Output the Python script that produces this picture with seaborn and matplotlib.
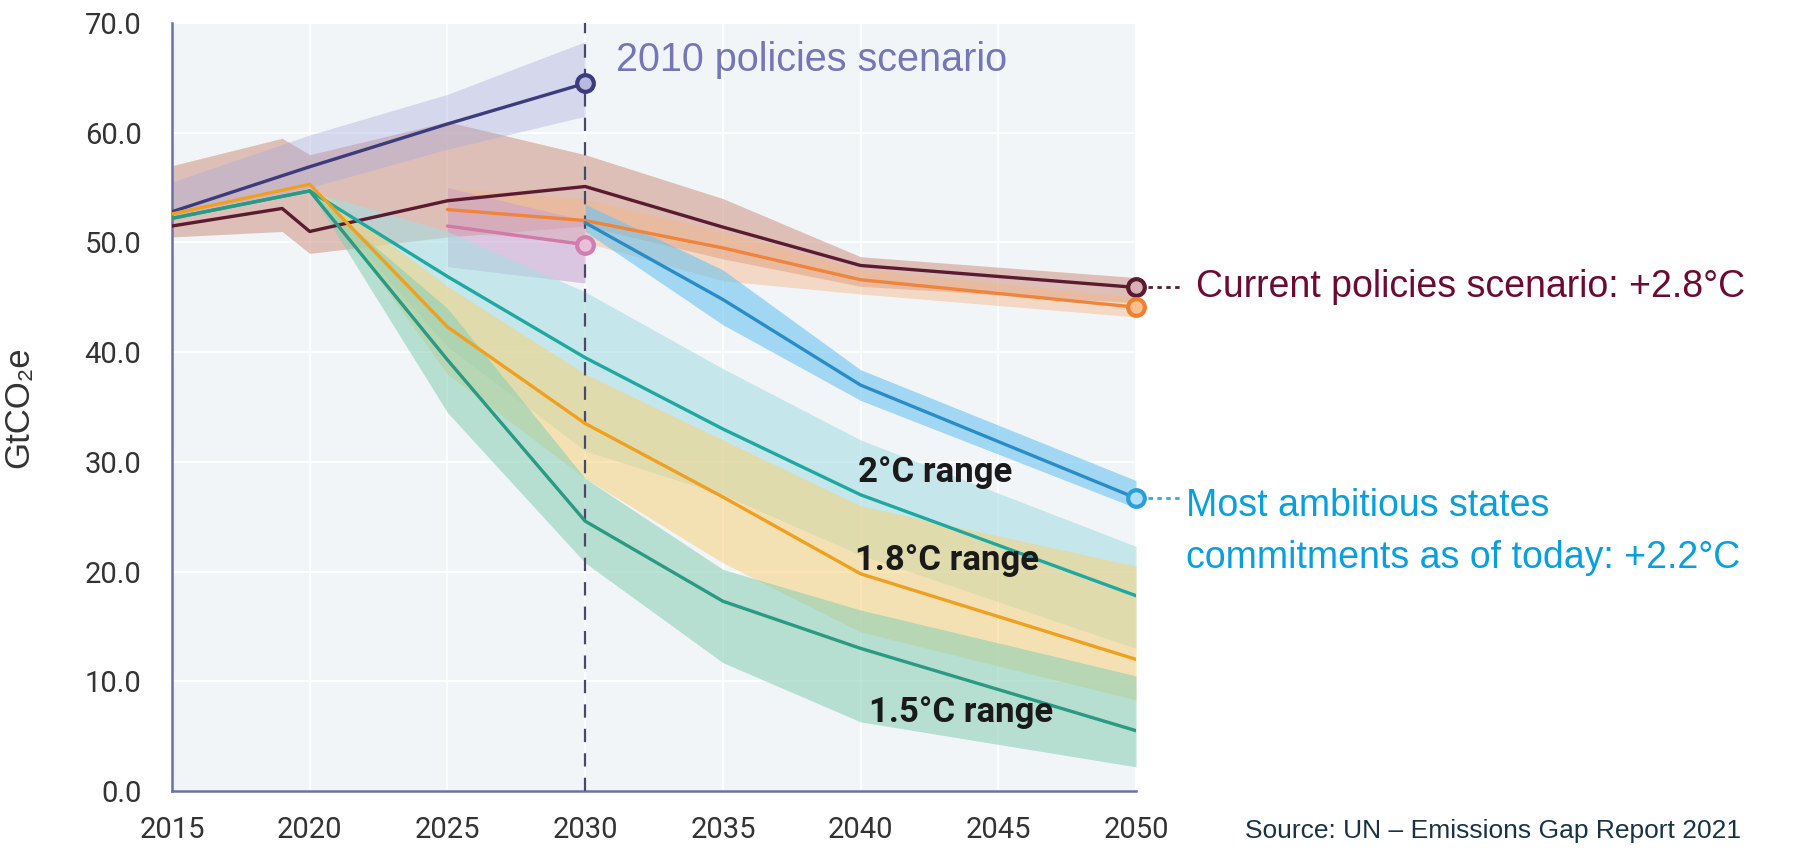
import matplotlib
matplotlib.use("Agg")
import matplotlib.pyplot as plt
import matplotlib.ticker as mticker
import numpy as np
import pandas as pd
import seaborn as sns

# ---------------------------------------------------------------------------
# Data (GtCO2e), read off the UN Emissions Gap Report 2021 chart
# ---------------------------------------------------------------------------
years_2010 = [2015, 2020, 2025, 2030]
policy_2010 = [52.8, 56.9, 60.8, 64.5]
policy_2010_lo = [52.0, 55.0, 58.5, 61.5]
policy_2010_hi = [55.5, 59.8, 63.5, 68.3]

years_current = [2015, 2019, 2020, 2025, 2030, 2035, 2040, 2050]
current = [51.5, 53.1, 51.0, 53.8, 55.1, 51.4, 47.9, 45.9]
current_lo = [50.5, 51.0, 49.0, 50.5, 51.5, 48.5, 46.0, 44.5]
current_hi = [57.0, 59.5, 58.0, 61.0, 58.0, 54.0, 48.7, 46.8]

years_ndc = [2025, 2030, 2035, 2040, 2050]
ndc = [53.0, 52.0, 49.5, 46.6, 44.1]
ndc_lo = [51.0, 50.0, 46.5, 45.3, 43.2]
ndc_hi = [55.0, 54.0, 51.0, 47.6, 45.0]

years_pledge = [2025, 2030]
pledge = [51.5, 49.8]
pledge_lo = [47.8, 46.3]
pledge_hi = [55.0, 52.0]

years_ambitious = [2030, 2035, 2040, 2050]
ambitious = [51.8, 44.8, 37.0, 26.7]
ambitious_lo = [51.0, 42.5, 35.6, 25.8]
ambitious_hi = [53.5, 47.5, 38.4, 28.3]

years_paths = [2015, 2020, 2025, 2030, 2035, 2040, 2050]
range_2c = [52.2, 54.7, 46.9, 39.5, 33.0, 27.0, 17.8]
range_2c_lo = [52.2, 54.7, 40.5, 31.0, 27.0, 21.5, 13.0]
range_2c_hi = [52.2, 54.7, 51.0, 45.5, 38.5, 32.0, 22.3]

range_18 = [52.6, 55.3, 42.3, 33.5, 26.8, 19.8, 12.0]
range_18_lo = [52.6, 55.3, 38.0, 28.5, 20.8, 14.5, 8.3]
range_18_hi = [52.6, 55.3, 46.0, 38.0, 32.0, 26.0, 20.5]

range_15 = [52.2, 54.7, 39.3, 24.6, 17.3, 13.0, 5.5]
range_15_lo = [52.2, 54.7, 34.5, 20.8, 11.7, 6.3, 2.2]
range_15_hi = [52.2, 54.7, 44.0, 28.5, 20.2, 16.5, 10.5]

x_ticks = [2015, 2020, 2025, 2030, 2035, 2040, 2045, 2050]
y_ticks = [0, 10, 20, 30, 40, 50, 60, 70]

# ---------------------------------------------------------------------------
# Style
# ---------------------------------------------------------------------------
sns.set_theme(style="white")
plt.rcParams["font.family"] = ["Roboto", "DejaVu Sans"]

AXIS_COLOR = "#6e6eaa"
ARIAL = ["Liberation Sans", "DejaVu Sans"]

fig = plt.figure(figsize=(17.99, 8.56), dpi=100)
ax = fig.add_axes([0.0956, 0.0759, 0.5359, 0.8972])
ax.set_facecolor("#f2f5f7")

# Ranges (bands), then the central lines
bands = [
    (years_current, current_lo, current_hi, "#c98a78", 0.50),
    (years_2010, policy_2010_lo, policy_2010_hi, "#a8a8dc", 0.38),
    (years_ndc, ndc_lo, ndc_hi, "#f6b888", 0.45),
    (years_pledge, pledge_lo, pledge_hi, "#c8a0d0", 0.55),
    (years_paths, range_2c_lo, range_2c_hi, "#a8dde2", 0.60),
    (years_paths, range_18_lo, range_18_hi, "#f6d27c", 0.55),
    (years_paths, range_15_lo, range_15_hi, "#86cdb4", 0.55),
    (years_ambitious, ambitious_lo, ambitious_hi, "#6cc4f0", 0.60),
]
for yrs, lo, hi, col, alpha in bands:
    ax.fill_between(yrs, lo, hi, color=col, alpha=alpha, lw=0, zorder=2)

lines = pd.concat(
    [
        pd.DataFrame({"year": years_2010, "value": policy_2010, "series": "2010"}),
        pd.DataFrame({"year": years_current, "value": current, "series": "current"}),
        pd.DataFrame({"year": years_ndc, "value": ndc, "series": "ndc"}),
        pd.DataFrame({"year": years_pledge, "value": pledge, "series": "pledge"}),
        pd.DataFrame({"year": years_ambitious, "value": ambitious, "series": "ambitious"}),
        pd.DataFrame({"year": years_paths, "value": range_2c, "series": "2c"}),
        pd.DataFrame({"year": years_paths, "value": range_18, "series": "1.8c"}),
        pd.DataFrame({"year": years_paths, "value": range_15, "series": "1.5c"}),
    ],
    ignore_index=True,
)
line_colors = {
    "2010": "#3c3c7c",
    "current": "#5a1a30",
    "ndc": "#f0843a",
    "pledge": "#d07aa8",
    "ambitious": "#2a8cc6",
    "2c": "#1ea8a0",
    "1.8c": "#f0a020",
    "1.5c": "#2a9a82",
}
sns.lineplot(
    data=lines, x="year", y="value", hue="series", palette=line_colors,
    estimator=None, sort=False, linewidth=2.4, legend=False, ax=ax, zorder=4,
)

# 2030 reference line
ax.axvline(2030, color="#4a4a66", lw=1.6, ls=(0, (6, 5)), zorder=3)

# Open end markers
end_marks = [
    (years_2010[-1], policy_2010[-1], "#3c3c7c", "#b8b8e0"),
    (years_pledge[-1], pledge[-1], "#d080b0", "#e8c0dc"),
    (years_current[-1], current[-1], "#5a1a30", "#d8b0b8"),
    (years_ndc[-1], ndc[-1], "#f08030", "#f8c090"),
    (years_ambitious[-1], ambitious[-1], "#2aa0d8", "#b0e0f8"),
]
for x, y, ec, fc in end_marks:
    ax.plot(x, y, marker="o", ms=12, mew=3, mec=ec, mfc=fc, zorder=6, clip_on=False)

# Dotted connectors to the right-hand labels
for y, col in [(current[-1], "#5a1a30"), (ambitious[-1], "#3aa6dc")]:
    ax.plot([2050.45, 2051.7], [y, y], color=col, lw=2, ls=(0, (1.6, 1.6)),
            clip_on=False, zorder=6)

# Labels
ax.annotate("2010 policies scenario", xy=(years_2010[-1], policy_2010[-1]),
            xytext=(22, 17), textcoords="offset points", va="center", ha="left",
            fontsize=28.5, color="#7676b6", family=ARIAL)
ax.annotate("Current policies scenario: +2.8°C", xy=(years_current[-1], current[-1]),
            xytext=(43, 0), textcoords="offset points", va="center", ha="left",
            fontsize=27, color="#6b0a33", family=ARIAL, annotation_clip=False)
ax.annotate("Most ambitious states\ncommitments as of today: +2.2°C",
            xy=(years_ambitious[-1], ambitious[-1]),
            xytext=(36, 7), textcoords="offset points", va="top", ha="left",
            fontsize=27, color="#0a9fdc", linespacing=1.55,
            family=ARIAL, annotation_clip=False)

for txt, yr, val in [("2°C range", 2039.9, 29.0), ("1.8°C range", 2039.8, 21.0),
                     ("1.5°C range", 2040.3, 7.2)]:
    ax.text(yr, val, txt, fontsize=25, fontweight="bold", color="#1a1a1a",
            va="center", ha="left", zorder=7)

fig.text(0.692, 0.015, "Source: UN \u2013 Emissions Gap Report 2021", fontsize=19,
         color="#1a3344", family=ARIAL, va="bottom")

# Axes
ax.set_xlim(2015, 2050)
ax.set_ylim(0, 70)
ax.set_xticks(x_ticks)
ax.set_yticks(y_ticks)
ax.yaxis.set_major_formatter(mticker.FormatStrFormatter("%.1f"))
ax.grid(True, color="white", lw=1.3)
ax.set_axisbelow(True)
for side in ["top", "right"]:
    ax.spines[side].set_visible(False)
for side in ["left", "bottom"]:
    ax.spines[side].set_color(AXIS_COLOR)
    ax.spines[side].set_linewidth(1.8)
ax.tick_params(axis="both", colors=AXIS_COLOR, labelcolor="#333333", labelsize=21,
               length=14, width=1.6, direction="out")
ax.tick_params(axis="y", pad=8)
ax.tick_params(axis="x", pad=4)
ax.set_xlabel("")
ax.set_ylabel("GtCO\u2082e", fontsize=25, color="#333333", family=ARIAL)
ax.yaxis.set_label_coords(-0.142, 0.5)

fig.savefig("out.png", dpi=100, facecolor="white")
